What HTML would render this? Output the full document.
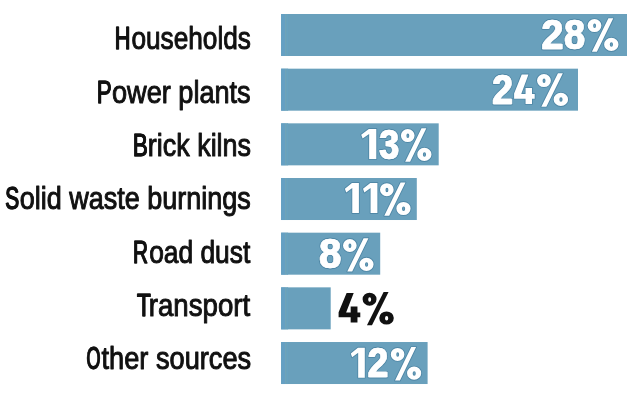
<!DOCTYPE html>
<html><head><meta charset="utf-8"><title>Chart</title>
<style>
html,body{margin:0;padding:0;background:#fff;}
body{width:627px;height:400px;overflow:hidden;}
svg{display:block;will-change:transform;}
text{font-family:"Liberation Sans",sans-serif;stroke-linejoin:round;}
.l{font-size:32.0px;fill:#111;stroke:#111;stroke-width:1.0;}
.v{font-size:42.0px;font-weight:bold;stroke-width:0.7;}
.h{fill:#4f87a6;stroke:#4f87a6;stroke-linejoin:round;}
.h text{stroke-width:2.5;}
.h use{stroke-width:1.8;}
.w{fill:#fff;stroke:#fff;}
.k{fill:#111;stroke:#111;}
.w use,.k use{stroke:none;}
</style></head>
<body>
<svg width="627" height="400" viewBox="0 0 627 400">
<defs>
<path id="g4" fill-rule="evenodd" d="M7.9,-29.5 L14.9,-29.5 L7.4,-10 L11.9,-10 L11.9,-16 L18.6,-16 L18.6,-10 L21.4,-10 L21.4,-5.2 L18.6,-5.2 L18.6,0 L11.9,0 L11.9,-5.2 L0,-5.2 L0,-10.3 Z"/>
<path id="g1" fill-rule="evenodd" d="M7.6,-30 L15,-30 L15,0 L7.9,0 L7.9,-24.9 L1.4,-20.4 L0,-24.2 Z"/>
<path id="gp" fill-rule="evenodd" d="M20.8,-30.6 L25.7,-30.6 L9.3,2.8 L4.3,2.8 Z M0.00,-23.30 a6.90,6.50 0 1,0 13.80,0 a6.90,6.50 0 1,0 -13.80,0 Z M5.55,-23.10 a1.45,2.25 0 1,0 2.90,0 a1.45,2.25 0 1,0 -2.90,0 Z M16.50,-4.50 a7.20,6.60 0 1,0 14.40,0 a7.20,6.60 0 1,0 -14.40,0 Z M22.20,-4.30 a1.60,2.25 0 1,0 3.20,0 a1.60,2.25 0 1,0 -3.20,0 Z"/>
</defs>
<rect width="627" height="400" fill="#fff"/>
<rect x="281.1" y="14.00" width="346.9" height="42" fill="#69a0bc"/><rect x="281.1" y="14.00" width="4" height="42" fill="#65a0c3"/><rect x="285.1" y="14.00" width="1.5" height="42" fill="#70a4b9"/><rect x="286.6" y="14.00" width="1.5" height="42" fill="#67a2c0"/>
<rect x="281.1" y="68.67" width="296.9" height="42" fill="#69a0bc"/><rect x="281.1" y="68.67" width="4" height="42" fill="#65a0c3"/><rect x="285.1" y="68.67" width="1.5" height="42" fill="#70a4b9"/><rect x="286.6" y="68.67" width="1.5" height="42" fill="#67a2c0"/>
<rect x="281.1" y="123.34" width="157.6" height="42" fill="#69a0bc"/><rect x="281.1" y="123.34" width="4" height="42" fill="#65a0c3"/><rect x="285.1" y="123.34" width="1.5" height="42" fill="#70a4b9"/><rect x="286.6" y="123.34" width="1.5" height="42" fill="#67a2c0"/>
<rect x="281.1" y="178.01" width="135.7" height="42" fill="#69a0bc"/><rect x="281.1" y="178.01" width="4" height="42" fill="#65a0c3"/><rect x="285.1" y="178.01" width="1.5" height="42" fill="#70a4b9"/><rect x="286.6" y="178.01" width="1.5" height="42" fill="#67a2c0"/>
<rect x="281.1" y="232.68" width="99.1" height="42" fill="#69a0bc"/><rect x="281.1" y="232.68" width="4" height="42" fill="#65a0c3"/><rect x="285.1" y="232.68" width="1.5" height="42" fill="#70a4b9"/><rect x="286.6" y="232.68" width="1.5" height="42" fill="#67a2c0"/>
<rect x="281.1" y="287.35" width="49.6" height="42" fill="#69a0bc"/><rect x="281.1" y="287.35" width="4" height="42" fill="#65a0c3"/><rect x="285.1" y="287.35" width="1.5" height="42" fill="#70a4b9"/><rect x="286.6" y="287.35" width="1.5" height="42" fill="#67a2c0"/>
<rect x="281.1" y="342.02" width="146.5" height="42" fill="#69a0bc"/><rect x="281.1" y="342.02" width="4" height="42" fill="#65a0c3"/><rect x="285.1" y="342.02" width="1.5" height="42" fill="#70a4b9"/><rect x="286.6" y="342.02" width="1.5" height="42" fill="#67a2c0"/>
<g aria-label="Households"><text class="l" transform="translate(114.57 49) scale(0.6779 1)">H</text><text class="l" transform="translate(115.01 49) scale(0.6779 1)">H</text><text class="l" transform="translate(131.38 49) scale(0.8201 1)">ouseholds</text></g>
<g aria-label="Power plants"><text class="l" transform="translate(96.64 103) scale(0.6922 1)">P</text><text class="l" transform="translate(97.08 103) scale(0.6922 1)">P</text><text class="l" transform="translate(111.96 103) scale(0.8481 1)">ower plants</text></g>
<g aria-label="Brick kilns"><text class="l" transform="translate(132.68 156) scale(0.6978 1)">B</text><text class="l" transform="translate(133.12 156) scale(0.6978 1)">B</text><text class="l" transform="translate(147.78 156) scale(0.8420 1)">rick kilns</text></g>
<g aria-label="Solid waste burnings"><text class="l" transform="translate(4.95 209) scale(0.6525 1)">S</text><text class="l" transform="translate(5.39 209) scale(0.6525 1)">S</text><text class="l" transform="translate(19.67 209) scale(0.8437 1)">olid waste burnings</text></g>
<g aria-label="Road dust"><text class="l" transform="translate(132.79 263) scale(0.6486 1)">R</text><text class="l" transform="translate(133.23 263) scale(0.6486 1)">R</text><text class="l" transform="translate(149.13 263) scale(0.8241 1)">oad dust</text></g>
<g aria-label="Transport"><text class="l" transform="translate(136.82 316) scale(0.7032 1)">T</text><text class="l" transform="translate(137.26 316) scale(0.7032 1)">T</text><text class="l" transform="translate(148.79 316) scale(0.8638 1)">ransport</text></g>
<g aria-label="Other sources"><text class="l" transform="translate(86.34 369) scale(0.5609 1)">O</text><text class="l" transform="translate(86.78 369) scale(0.5609 1)">O</text><text class="l" transform="translate(101.50 369) scale(0.8507 1)">ther sources</text></g>
<g class="h" aria-hidden="true">
<text class="v" transform="translate(540.92 49) scale(0.9356 1)">2</text><text class="v" transform="translate(541.92 49) scale(0.9356 1)">2</text><text class="v" transform="translate(563.70 49) scale(0.8858 1)">8</text><text class="v" transform="translate(564.70 49) scale(0.8858 1)">8</text><use href="#gp" transform="translate(587.60 48.90) scale(1.0000 1)"/>
<text class="v" transform="translate(491.68 104) scale(0.8831 1)">2</text><text class="v" transform="translate(492.68 104) scale(0.8831 1)">2</text><use href="#g4" transform="translate(514.10 103.90) scale(0.9626 1)"/><use href="#gp" transform="translate(537.00 103.90) scale(1.0065 1)"/>
<use href="#g1" transform="translate(361.20 158.90) scale(1.0067 1)"/><text class="v" transform="translate(378.65 159) scale(0.8485 1)">3</text><text class="v" transform="translate(379.65 159) scale(0.8485 1)">3</text><use href="#gp" transform="translate(400.90 158.90) scale(0.9903 1)"/>
<use href="#g1" transform="translate(344.90 213.00) scale(0.9333 1)"/><use href="#g1" transform="translate(363.00 213.00) scale(0.9600 1)"/><use href="#gp" transform="translate(380.00 213.00) scale(0.9903 1)"/>
<text class="v" transform="translate(318.76 268) scale(0.9371 1)">8</text><text class="v" transform="translate(319.76 268) scale(0.9371 1)">8</text><use href="#gp" transform="translate(343.00 268.80) scale(0.9903 1)"/>
<use href="#g1" transform="translate(350.80 377.70) scale(0.9333 1)"/><text class="v" transform="translate(367.30 377) scale(0.8735 1)">2</text><text class="v" transform="translate(368.30 377) scale(0.8735 1)">2</text><use href="#gp" transform="translate(390.80 377.70) scale(0.9839 1)"/>
</g>
<g class="w" aria-label="28%"><text class="v" transform="translate(540.92 49) scale(0.9356 1)">2</text><text class="v" transform="translate(541.92 49) scale(0.9356 1)">2</text><text class="v" transform="translate(563.70 49) scale(0.8858 1)">8</text><text class="v" transform="translate(564.70 49) scale(0.8858 1)">8</text><use href="#gp" transform="translate(587.60 48.90) scale(1.0000 1)"/></g>
<g class="w" aria-label="24%"><text class="v" transform="translate(491.68 104) scale(0.8831 1)">2</text><text class="v" transform="translate(492.68 104) scale(0.8831 1)">2</text><use href="#g4" transform="translate(514.10 103.90) scale(0.9626 1)"/><use href="#gp" transform="translate(537.00 103.90) scale(1.0065 1)"/></g>
<g class="w" aria-label="13%"><use href="#g1" transform="translate(361.20 158.90) scale(1.0067 1)"/><text class="v" transform="translate(378.65 159) scale(0.8485 1)">3</text><text class="v" transform="translate(379.65 159) scale(0.8485 1)">3</text><use href="#gp" transform="translate(400.90 158.90) scale(0.9903 1)"/></g>
<g class="w" aria-label="11%"><use href="#g1" transform="translate(344.90 213.00) scale(0.9333 1)"/><use href="#g1" transform="translate(363.00 213.00) scale(0.9600 1)"/><use href="#gp" transform="translate(380.00 213.00) scale(0.9903 1)"/></g>
<g class="w" aria-label="8%"><text class="v" transform="translate(318.76 268) scale(0.9371 1)">8</text><text class="v" transform="translate(319.76 268) scale(0.9371 1)">8</text><use href="#gp" transform="translate(343.00 268.80) scale(0.9903 1)"/></g>
<g class="k" aria-label="4%"><use href="#g4" transform="translate(338.60 322.50) scale(1.0140 1)"/><use href="#gp" transform="translate(362.60 322.50) scale(1.0097 1)"/></g>
<g class="w" aria-label="12%"><use href="#g1" transform="translate(350.80 377.70) scale(0.9333 1)"/><text class="v" transform="translate(367.30 377) scale(0.8735 1)">2</text><text class="v" transform="translate(368.30 377) scale(0.8735 1)">2</text><use href="#gp" transform="translate(390.80 377.70) scale(0.9839 1)"/></g>
</svg>
</body></html>
